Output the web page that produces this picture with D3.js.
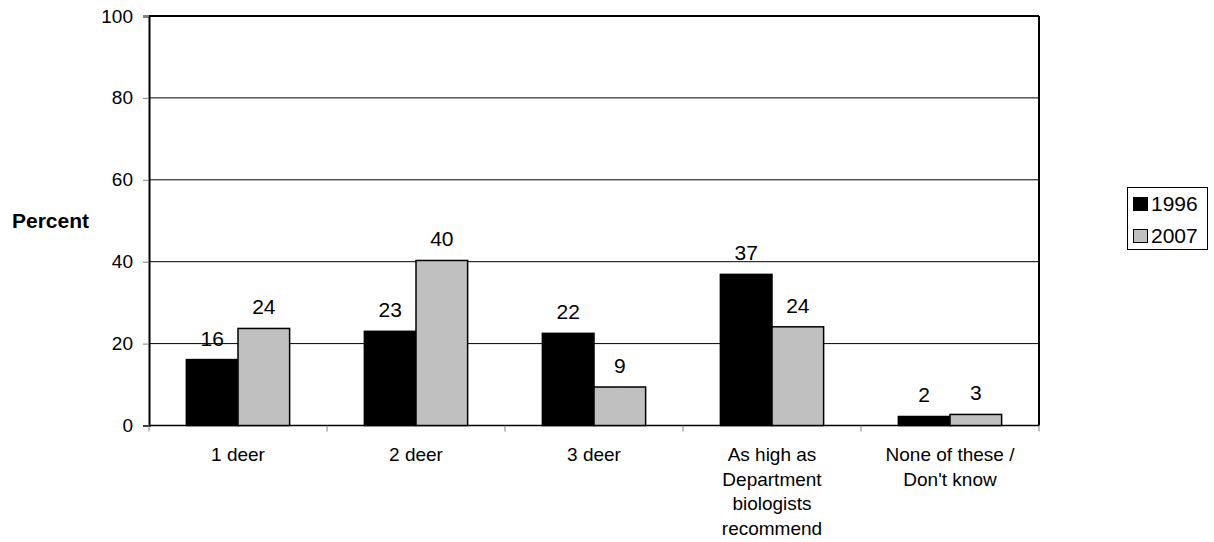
<!DOCTYPE html>
<html><head><meta charset="utf-8">
<script src="https://cdn.jsdelivr.net/npm/d3@7"></script>
<style>body{margin:0;background:#fff;} text{font-family:Arial,"Liberation Sans",sans-serif;}</style>
</head><body>
<svg id="chart" width="1214" height="542"></svg>
<script>
const categories = [["1 deer"],["2 deer"],["3 deer"],["As high as","Department","biologists","recommend"],["None of these /","Don't know"]];
const seriesNames = ["1996","2007"];
const values1996 = [16.1, 23.0, 22.5, 36.9, 2.2];
const values2007 = [23.7, 40.3, 9.4, 24.1, 2.7];
const labels1996 = ["16","23","22","37","2"];
const labels2007 = ["24","40","9","24","3"];
const yTicks = [0,20,40,60,80,100];
const colors = ["#000000","#c0c0c0"];

const svg = d3.select("#chart");
const L=149, R=1039, T=16, B=425.5;
const x = d3.scaleBand().domain(d3.range(categories.length)).range([L,R]).paddingInner(0.42).paddingOuter(0.21);
const step = (R-L)/categories.length;
const xs = d3.scaleBand().domain([0,1]).range([0,x.bandwidth()]);
const y = d3.scaleLinear().domain([0,100]).range([B,T]);

// gridlines
svg.append("g").selectAll("line").data(yTicks.filter(d=>d>0)).join("line")
  .attr("x1",L).attr("x2",R).attr("y1",d=>y(d)).attr("y2",d=>y(d))
  .attr("stroke","#000").attr("stroke-width",1);
// border top/right
svg.append("line").attr("x1",L).attr("x2",R).attr("y1",T).attr("y2",T).attr("stroke","#000").attr("stroke-width",2);
svg.append("line").attr("x1",R).attr("x2",R).attr("y1",T).attr("y2",B).attr("stroke","#000").attr("stroke-width",2);

// y axis
const yAxis = d3.axisLeft(y).tickValues(yTicks).tickSize(6).tickPadding(10);
const gy = svg.append("g").attr("transform",`translate(${L},0)`).call(yAxis);
gy.select(".domain").attr("stroke","#000").attr("stroke-width",2);
gy.selectAll(".tick line").attr("stroke","#808080");
gy.selectAll(".tick text").attr("font-size",19).attr("font-family","Arial, 'Liberation Sans', sans-serif").attr("fill","#000");

// x axis baseline and ticks
svg.append("line").attr("x1",L).attr("x2",R).attr("y1",B).attr("y2",B).attr("stroke","#000").attr("stroke-width",1.5);
svg.append("g").selectAll("line").data(d3.range(categories.length+1)).join("line")
  .attr("x1",i=>L+i*step).attr("x2",i=>L+i*step).attr("y1",B).attr("y2",B+6)
  .attr("stroke","#808080").attr("stroke-width",1);

// bars
const series = [values1996, values2007];
const labs = [labels1996, labels2007];
series.forEach((vals,s)=>{
  const g = svg.append("g");
  g.selectAll("rect").data(vals).join("rect")
    .attr("x",(d,i)=>x(i)+xs(s)).attr("width",xs.bandwidth())
    .attr("y",d=>y(d)).attr("height",d=>B-y(d))
    .attr("fill",colors[s]).attr("stroke","#000").attr("stroke-width",1.5);
  g.selectAll("text").data(vals).join("text")
    .attr("x",(d,i)=>x(i)+xs(s)+xs.bandwidth()/2).attr("y",d=>y(d)-14)
    .attr("text-anchor","middle").attr("font-size",21).text((d,i)=>labs[s][i]);
});

// category labels
categories.forEach((lines,i)=>{
  const t = svg.append("text").attr("text-anchor","middle").attr("font-size",19)
    .attr("x",x(i)+x.bandwidth()/2).attr("y",461);
  lines.forEach((ln,j)=>t.append("tspan").attr("x",x(i)+x.bandwidth()/2).attr("y",461+j*24.6).text(ln));
});

// y title
svg.append("text").attr("x",12).attr("y",228).attr("font-size",21).attr("font-weight","bold").text("Percent");

// legend
const lg = svg.append("g");
lg.append("rect").attr("x",1127.5).attr("y",187.5).attr("width",80).attr("height",62).attr("fill","#fff").attr("stroke","#000").attr("stroke-width",1);
seriesNames.forEach((n,i)=>{
  lg.append("rect").attr("x",1133.5).attr("y",197.5+i*32).attr("width",14).attr("height",13)
    .attr("fill",colors[i]).attr("stroke","#000").attr("stroke-width",1);
  lg.append("text").attr("x",1151).attr("y",211+i*32).attr("font-size",21).text(n);
});
</script>
</body></html>
